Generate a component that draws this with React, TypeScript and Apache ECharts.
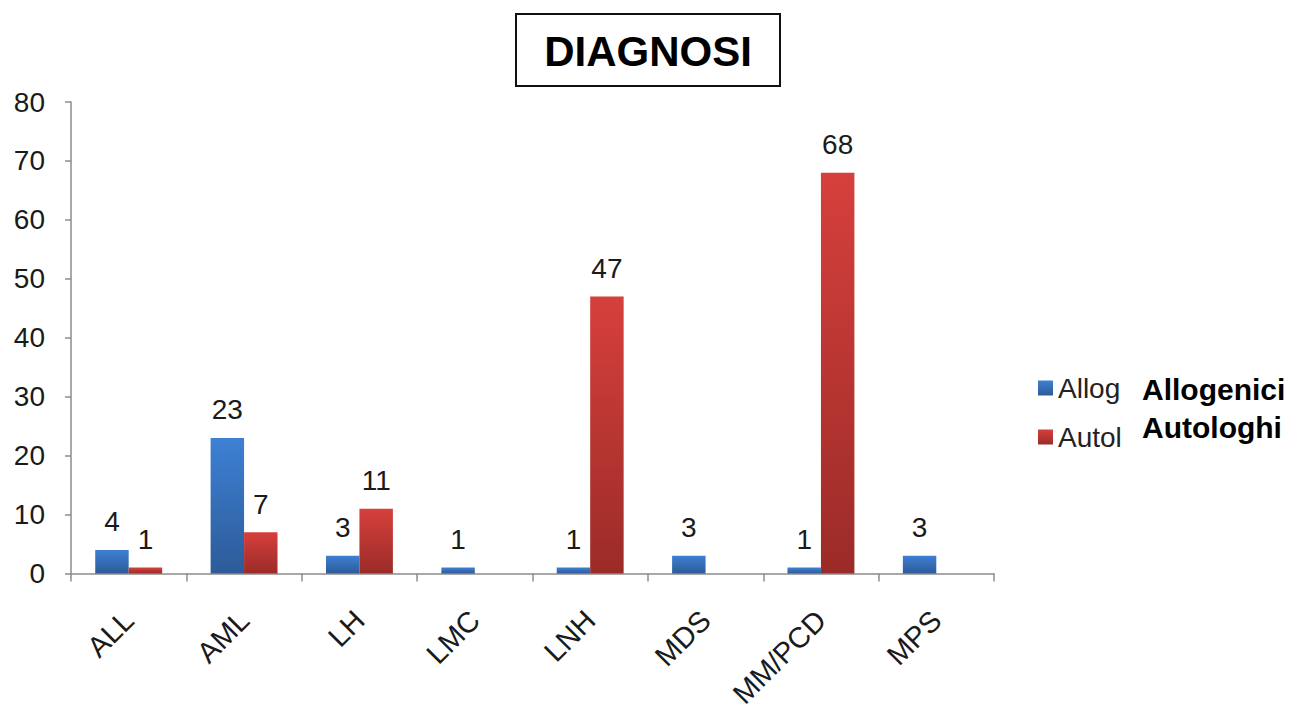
import React, { useEffect, useRef } from "react";
import * as echarts from "echarts";

const categories = ["ALL", "AML", "LH", "LMC", "LNH", "MDS", "MM/PCD", "MPS"];
const allogValues = [4, 23, 3, 1, 1, 3, 1, 3];
const autolValues: (number | null)[] = [1, 7, 11, null, 47, null, 68, null];
const seriesNames = ["Allog", "Autol"];
const legendNotes = ["Allogenici", "Autologhi"];
const titleText = "DIAGNOSI";
const yTicks = { min: 0, max: 80, interval: 10 };

const FONT = "'Liberation Sans', Arial, sans-serif";

export default function App() {
  const ref = useRef<HTMLDivElement>(null);
  useEffect(() => {
    document.body.style.margin = "0";
    const chart = echarts.init(ref.current!, null, { renderer: "svg" });
    const grad = (top: string, bottom: string) =>
      new echarts.graphic.LinearGradient(0, 0, 0, 1, [
        { offset: 0, color: top },
        { offset: 1, color: bottom },
      ]);
    const labelStyle = {
      show: true,
      position: "top" as const,
      distance: 14,
      fontSize: 28,
      color: "#1a1a1a",
      fontFamily: FONT,
    };
    chart.setOption({
      animation: false,
      backgroundColor: "#ffffff",
      grid: { left: 71, top: 102, right: 305, bottom: 136 },
      legend: {
        orient: "vertical",
        left: 1033,
        top: 368,
        itemWidth: 15,
        itemHeight: 15,
        itemGap: 19,
        icon: "rect",
        textStyle: { fontSize: 28, color: "#222", fontFamily: FONT, lineHeight: 30 },
        data: seriesNames,
      },
      graphic: [
        {
          type: "rect",
          shape: { x: 516, y: 14, width: 264, height: 72 },
          style: { fill: "#fff", stroke: "#111", lineWidth: 2 },
        },
        {
          type: "text",
          x: 648,
          y: 51,
          style: {
            text: titleText,
            fontSize: 42,
            fontWeight: "bold",
            fontFamily: FONT,
            fill: "#000",
            align: "center",
            verticalAlign: "middle",
          },
        },
        {
          type: "text",
          x: 1142,
          y: 389,
          style: {
            text: legendNotes[0],
            fontSize: 30,
            fontWeight: "bold",
            fontFamily: FONT,
            fill: "#000",
            verticalAlign: "middle",
          },
        },
        {
          type: "text",
          x: 1142,
          y: 427,
          style: {
            text: legendNotes[1],
            fontSize: 30,
            fontWeight: "bold",
            fontFamily: FONT,
            fill: "#000",
            verticalAlign: "middle",
          },
        },
      ],
      xAxis: {
        type: "category",
        data: categories,
        axisLine: { lineStyle: { color: "#8c8c8c", width: 1.5 } },
        axisTick: { show: true, length: 8, lineStyle: { color: "#8c8c8c", width: 1.5 } },
        axisLabel: {
          rotate: 45,
          margin: 42,
          fontSize: 29,
          color: "#1a1a1a",
          fontFamily: FONT,
          interval: 0,
        },
      },
      yAxis: {
        type: "value",
        min: yTicks.min,
        max: yTicks.max,
        interval: yTicks.interval,
        splitLine: { show: false },
        axisLine: { show: true, lineStyle: { color: "#8c8c8c", width: 1.5 } },
        axisTick: { show: true, length: 6, lineStyle: { color: "#8c8c8c", width: 1.5 } },
        axisLabel: { fontSize: 28, color: "#1a1a1a", fontFamily: FONT, margin: 26 },
      },
      series: [
        {
          name: seriesNames[0],
          type: "bar",
          data: allogValues,
          barGap: "0%",
          barCategoryGap: "42%",
          itemStyle: { color: grad("#3e80d4", "#2c5b98") },
          label: labelStyle,
        },
        {
          name: seriesNames[1],
          type: "bar",
          data: autolValues,
          barGap: "0%",
          barCategoryGap: "42%",
          itemStyle: { color: grad("#d6403c", "#9b2b28") },
          label: labelStyle,
        },
      ],
    });
    return () => chart.dispose();
  }, []);
  return <div ref={ref} style={{ width: 1299, height: 711 }} />;
}
